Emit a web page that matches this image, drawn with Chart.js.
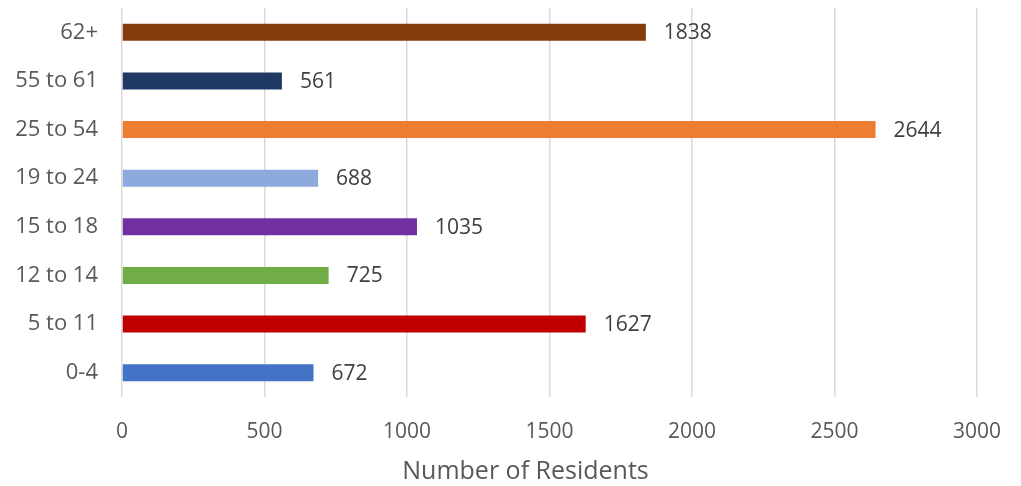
<!DOCTYPE html>
<html>
<head>
<meta charset="utf-8">
<script src="https://cdn.jsdelivr.net/npm/chart.js@4"></script>
<style>
  html, body { margin: 0; padding: 0; background: #fff; }
  #wrap { width: 1021px; height: 486px; position: relative; }
</style>
</head>
<body>
<div id="wrap"><canvas id="ageChart"></canvas></div>
<script>
const ageGroups = ['62+', '55 to 61', '25 to 54', '19 to 24', '15 to 18', '12 to 14', '5 to 11', '0-4'];
const residents = [1838, 561, 2644, 688, 1035, 725, 1627, 672];
const barColors = ['#843C0C', '#1F3864', '#ED7D31', '#8EA9DB', '#7030A0', '#70AD47', '#C00000', '#4472C4'];
const xTicks = [0, 500, 1000, 1500, 2000, 2500, 3000];
const xTitle = 'Number of Residents';

const fontFamily = '"Open Sans", "Noto Sans", sans-serif';

// value labels to the right of each bar, plus the axis title
// (the title sits a bit left of the plot centre in the original)
const valueLabels = {
  id: 'valueLabels',
  afterDatasetsDraw(chart) {
    const ctx = chart.ctx;
    const meta = chart.getDatasetMeta(0);
    ctx.save();
    ctx.font = '21px ' + fontFamily;
    ctx.fillStyle = '#404040';
    ctx.textAlign = 'left';
    ctx.textBaseline = 'middle';
    meta.data.forEach((bar, i) => {
      ctx.fillText(String(residents[i]), bar.x + 18, bar.y + 1);
    });

    const area = chart.chartArea;
    ctx.font = '25px ' + fontFamily;
    ctx.fillStyle = '#595959';
    ctx.textAlign = 'center';
    ctx.fillText(xTitle, (area.left + area.right) / 2 - 24, area.bottom + 75);
    ctx.restore();
  },
};

function noScalePadding(scale) {
  scale.paddingTop = 0;
  scale.paddingBottom = 0;
  scale.paddingLeft = 0;
  scale.paddingRight = 0;
}

new Chart(document.getElementById('ageChart').getContext('2d'), {
  type: 'bar',
  data: {
    labels: ageGroups,
    datasets: [
      {
        data: residents,
        backgroundColor: barColors,
        borderWidth: 0,
        categoryPercentage: 1,
        barPercentage: 0.35,
      },
    ],
  },
  options: {
    indexAxis: 'y',
    responsive: true,
    maintainAspectRatio: false,
    animation: false,
    layout: {
      padding: { left: 0, right: 44, top: 8, bottom: 0 },
    },
    scales: {
      x: {
        min: 0,
        max: 3000,
        afterBuildTicks: (scale) => {
          scale.ticks = xTicks.map((v) => ({ value: v }));
        },
        afterFit: (scale) => {
          scale.height = 89;
          noScalePadding(scale);
        },
        grid: {
          color: '#d9d9d9',
          lineWidth: 1.5,
          drawTicks: false,
        },
        border: { display: false },
        ticks: {
          padding: 22,
          color: '#595959',
          font: { family: fontFamily, size: 21 },
          callback: (value) => String(value),
        },
      },
      y: {
        afterFit: (scale) => {
          scale.width = 122;
          noScalePadding(scale);
        },
        grid: { display: false, drawTicks: false },
        border: { display: false },
        ticks: {
          padding: 24,
          color: '#595959',
          font: { family: fontFamily, size: 22 },
        },
      },
    },
    plugins: {
      legend: { display: false },
      tooltip: { enabled: false },
    },
  },
  plugins: [valueLabels],
});
</script>
</body>
</html>
